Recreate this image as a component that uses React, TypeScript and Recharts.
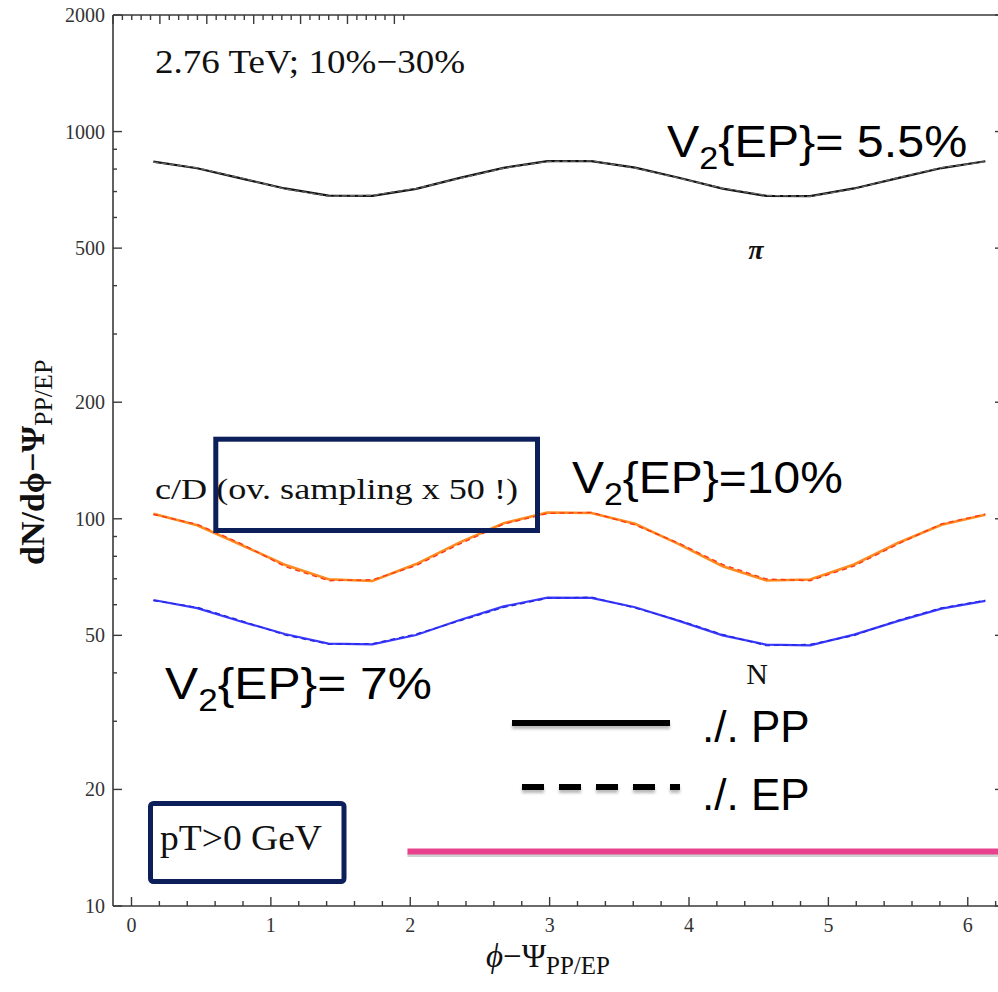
import React from 'react';
import { LineChart, Line, XAxis, YAxis, ReferenceLine } from 'recharts';

// bin centres of phi - Psi (20 bins over 0..2pi)
const phi = [0.157, 0.471, 0.785, 1.1, 1.414, 1.728, 2.042, 2.356, 2.67, 2.985, 3.299, 3.613, 3.927, 4.241, 4.555, 4.869, 5.184, 5.498, 5.812, 6.126];

// pions (black), ./. PP solid and ./. EP dashed
const pionPP = [836, 804, 757, 713, 683, 682, 711, 759, 806, 839, 839, 807, 760, 712, 682, 681, 713, 758, 805, 838];
const pionEP = [834, 806, 759, 711, 681, 684, 713, 757, 804, 837, 840, 805, 758, 714, 684, 680, 711, 760, 807, 836];

// c/D (orange / red)
const charmPP = [103.1, 96.2, 85.7, 76.1, 69.8, 69.1, 76.4, 86.9, 97.4, 103.8, 103.5, 97.1, 86.0, 75.4, 69.3, 69.7, 76.2, 86.6, 96.5, 102.4];
const charmEP = [102.6, 96.8, 86.3, 75.3, 69.2, 69.6, 75.7, 86.1, 96.9, 103.2, 103.9, 96.4, 86.5, 76.2, 69.9, 69.2, 75.5, 86.0, 97.0, 102.8];

// nucleons (blue)
const nucleonPP = [61.7, 58.8, 54.3, 50.4, 47.6, 47.4, 50.1, 54.8, 59.4, 62.6, 62.5, 59.1, 54.5, 50.0, 47.3, 47.1, 50.2, 54.4, 58.6, 61.4];
const nucleonEP = [61.5, 59.1, 54.6, 50.1, 47.4, 47.6, 50.4, 54.5, 59.0, 62.3, 62.8, 58.8, 54.7, 50.3, 47.0, 47.4, 49.9, 54.7, 58.9, 61.6];

const xTicks = [0, 0.2, 0.4, 0.6, 0.8, 1, 1.2, 1.4, 1.6, 1.8, 2, 2.2, 2.4, 2.6, 2.8, 3, 3.2, 3.4, 3.6, 3.8, 4, 4.2, 4.4, 4.6, 4.8, 5, 5.2, 5.4, 5.6, 5.8, 6, 6.2];
const xTickLabels = [0, 1, 2, 3, 4, 5, 6];
const yTicks = [10, 20, 30, 40, 50, 60, 70, 80, 90, 100, 200, 300, 400, 500, 600, 700, 800, 900, 1000, 2000];
const yTickLabels = [10, 20, 50, 100, 200, 500, 1000, 2000];

// magenta bar under the legend
const pinkBarX = [1.98, 6.26];
const pinkBarY = 13.83;
const pinkShadowY = 13.55;

const data = phi.map((x, i) => ({
  x,
  pionPP: pionPP[i],
  pionEP: pionEP[i],
  charmPP: charmPP[i],
  charmEP: charmEP[i],
  nucleonPP: nucleonPP[i],
  nucleonEP: nucleonEP[i],
}));

const FRAME = '#3a3a3a';
const SERIF = "'Liberation Serif', 'DejaVu Serif', serif";
const SANS = "'Liberation Sans', Arial, sans-serif";
const NAVY = '#0d1f5a';

const BottomTick = (props: any) => {
  const { x, y, payload } = props;
  const major = xTickLabels.includes(payload.value);
  return (
    <g>
      <line x1={x} y1={y} x2={x} y2={y - (major ? 9 : 5)} stroke={FRAME} strokeWidth={1.4} />
      {major && (
        <text x={x} y={y + 26} textAnchor="middle" fontFamily={SERIF} fontSize={20} fill="#333">
          {payload.value}
        </text>
      )}
    </g>
  );
};

const TopTick = (props: any) => {
  const { x, y, payload } = props;
  const major = xTickLabels.includes(payload.value);
  return <line x1={x} y1={y} x2={x} y2={y + (major ? 9 : 5)} stroke={FRAME} strokeWidth={1.4} />;
};

const LeftTick = (props: any) => {
  const { x, y, payload } = props;
  const major = yTickLabels.includes(payload.value);
  return (
    <g>
      <line x1={x} y1={y} x2={x + (major ? 9 : 4)} y2={y} stroke={FRAME} strokeWidth={1.4} />
      {major && (
        <text x={x - 8} y={y} dy="0.35em" textAnchor="end" fontFamily={SERIF} fontSize={20} fill="#333">
          {payload.value}
        </text>
      )}
    </g>
  );
};

const RightTick = (props: any) => {
  const { x, y, payload } = props;
  const major = yTickLabels.includes(payload.value);
  return <line x1={x} y1={y} x2={x - (major ? 9 : 4)} y2={y} stroke={FRAME} strokeWidth={1.4} />;
};

const VLabel = ({ x, y, sx, rest }: { x: number; y: number; sx: number; rest: string }) => (
  <text transform={`translate(${x},${y}) scale(${sx},1)`} fontFamily={SANS} fontSize={44} fill="#000">
    V
    <tspan fontSize={31} dy={12}>2</tspan>
    <tspan dy={-12}>{rest}</tspan>
  </text>
);

const Overlay = () => (
  <svg width={998} height={992} style={{ position: 'absolute', left: 0, top: 0, pointerEvents: 'none' }}>
    <defs>
      <filter id="blur" filterUnits="userSpaceOnUse" x="0" y="0" width="998" height="992">
        <feGaussianBlur stdDeviation="1.8" />
      </filter>
    </defs>

    {/* axis titles */}
    <text transform="translate(44,565) rotate(-90)" fontFamily={SERIF} fill="#111">
      <tspan fontSize={34} fontWeight="bold">dN/dϕ−Ψ</tspan>
      <tspan fontSize={26} dy={8}>PP/EP</tspan>
    </text>
    <text x={486} y={967} fontFamily={SERIF} fill="#111">
      <tspan fontSize={33} fontStyle="italic">ϕ</tspan>
      <tspan fontSize={33}>−Ψ</tspan>
      <tspan fontSize={25} dy={7}>PP/EP</tspan>
    </text>

    <text x={155} y={73} fontFamily={SERIF} fontSize={34} fill="#111" textLength={310} lengthAdjust="spacingAndGlyphs">
      2.76 TeV; 10%−30%
    </text>

    <text x={155} y={499} fontFamily={SERIF} fontSize={30} fill="#111" textLength={363} lengthAdjust="spacingAndGlyphs">
      c/D (ov. sampling x 50 !)
    </text>
    <rect x={215.8} y={439.2} width={321.7} height={91.3} fill="none" stroke={NAVY} strokeWidth={5} />

    <text x={756} y={259} textAnchor="middle" fontFamily={SERIF} fontSize={28} fontStyle="italic" fontWeight="bold" fill="#111">
      π
    </text>
    <text x={757} y={684} textAnchor="middle" fontFamily={SERIF} fontSize={30} fill="#111">
      N
    </text>

    <VLabel x={667} y={157} sx={1.1} rest="{EP}= 5.5%" />
    <VLabel x={572} y={493} sx={1.09} rest="{EP}=10%" />
    <VLabel x={165} y={699} sx={1.13} rest="{EP}= 7%" />

    {/* line-style legend */}
    <line x1={512} y1={726} x2={670} y2={726} stroke="#8a8a8a" strokeWidth={6} opacity={0.6} filter="url(#blur)" />
    <line x1={512} y1={723} x2={670} y2={723} stroke="#000" strokeWidth={6} />
    <line x1={522} y1={790} x2={680} y2={790} stroke="#8a8a8a" strokeWidth={6} strokeDasharray="22 15" opacity={0.6} filter="url(#blur)" />
    <line x1={522} y1={787} x2={680} y2={787} stroke="#000" strokeWidth={6} strokeDasharray="22 15" />
    <text x={702} y={742} fontFamily={SANS} fontSize={44} fill="#000">./. PP</text>
    <text x={702} y={810} fontFamily={SANS} fontSize={44} fill="#000">./. EP</text>

    <rect x={150.5} y={803.5} width={193.5} height={78} rx={3} fill="none" stroke={NAVY} strokeWidth={5} />
    <text x={160} y={850} fontFamily={SERIF} fontSize={36} fill="#111" textLength={162} lengthAdjust="spacingAndGlyphs">
      pT&gt;0 GeV
    </text>
  </svg>
);

export default function App() {
  return (
    <div style={{ position: 'absolute', left: 0, top: 0, width: 998, height: 992, overflow: 'hidden', background: '#fff' }}>
      <LineChart width={1010} height={992} data={data} margin={{ top: 14, right: 5, bottom: 0, left: 0 }}>
        <XAxis
          dataKey="x"
          type="number"
          domain={[-0.1327, 6.26]}
          allowDataOverflow
          ticks={xTicks}
          interval={0}
          tickSize={0}
          tickMargin={0}
          height={86}
          tick={BottomTick}
          axisLine={{ stroke: FRAME, strokeWidth: 1.6 }}
          tickLine={false}
        />
        <XAxis
          xAxisId="top"
          orientation="top"
          type="number"
          domain={[-0.1327, 6.26]}
          allowDataOverflow
          ticks={xTicks}
          interval={0}
          tickSize={0}
          tickMargin={0}
          height={1}
          tick={TopTick}
          axisLine={{ stroke: FRAME, strokeWidth: 1.6 }}
          tickLine={false}
        />
        <YAxis
          type="number"
          scale="log"
          domain={[10, 2000]}
          allowDataOverflow
          ticks={yTicks}
          interval={0}
          tickSize={0}
          tickMargin={0}
          width={113}
          tick={LeftTick}
          axisLine={{ stroke: FRAME, strokeWidth: 1.6 }}
          tickLine={false}
        />
        <YAxis
          yAxisId="right"
          orientation="right"
          type="number"
          scale="log"
          domain={[10, 2000]}
          allowDataOverflow
          ticks={yTicks}
          interval={0}
          tickSize={0}
          tickMargin={0}
          width={1}
          tick={RightTick}
          axisLine={{ stroke: FRAME, strokeWidth: 1.6 }}
          tickLine={false}
        />

        <ReferenceLine
          segment={[
            { x: pinkBarX[0], y: pinkShadowY },
            { x: pinkBarX[1], y: pinkShadowY },
          ]}
          stroke="#cdd3cf"
          strokeWidth={4}
        />
        <ReferenceLine
          segment={[
            { x: pinkBarX[0], y: pinkBarY },
            { x: pinkBarX[1], y: pinkBarY },
          ]}
          stroke="#e8428f"
          strokeWidth={6}
        />

        <Line dataKey="pionPP" type="linear" stroke="#111" strokeWidth={2.2} dot={false} isAnimationActive={false} />
        <Line dataKey="pionEP" type="linear" stroke="#666" strokeWidth={1.4} strokeDasharray="5 3" dot={false} isAnimationActive={false} />
        <Line dataKey="charmPP" type="linear" stroke="#ff8a1e" strokeWidth={2.6} dot={false} isAnimationActive={false} />
        <Line dataKey="charmEP" type="linear" stroke="#ff3a1a" strokeWidth={1.4} strokeDasharray="5 4" dot={false} isAnimationActive={false} />
        <Line dataKey="nucleonPP" type="linear" stroke="#3a3aff" strokeWidth={2.2} dot={false} isAnimationActive={false} />
        <Line dataKey="nucleonEP" type="linear" stroke="#2424dd" strokeWidth={1.2} strokeDasharray="5 4" dot={false} isAnimationActive={false} />
      </LineChart>
      <Overlay />
    </div>
  );
}
